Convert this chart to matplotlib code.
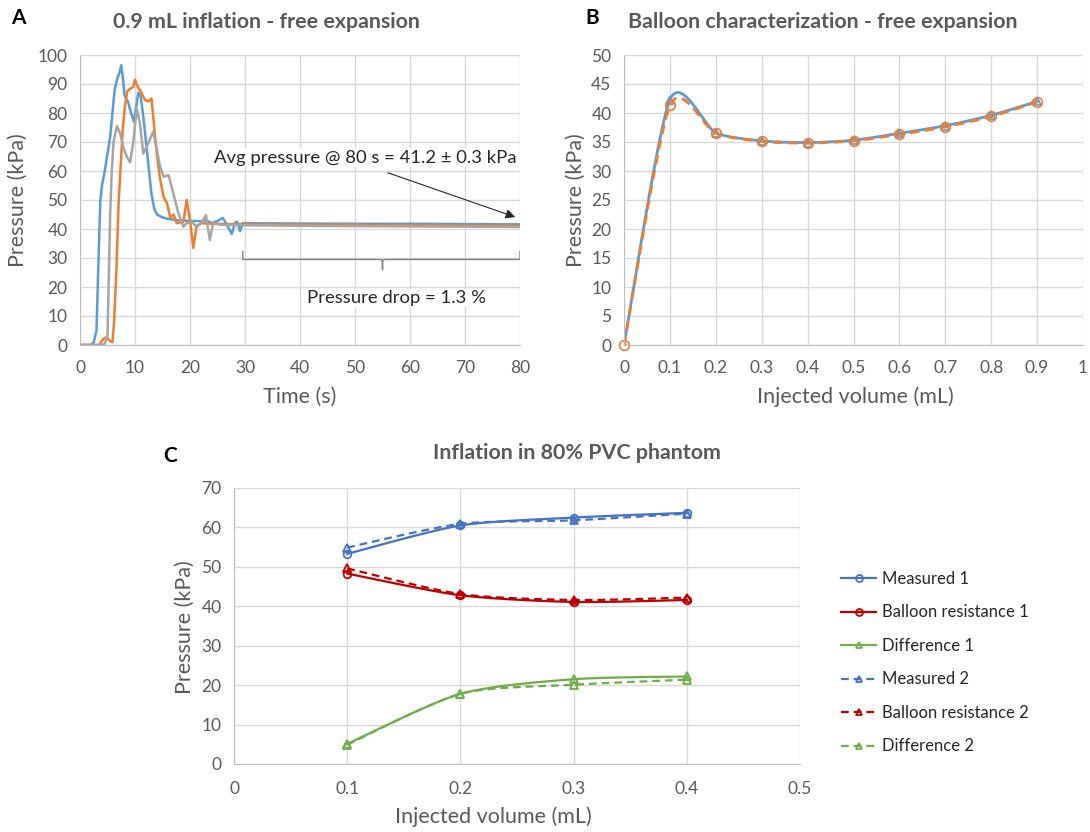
import numpy as np
import matplotlib
matplotlib.use("Agg")
import matplotlib.pyplot as plt
from matplotlib.ticker import MultipleLocator, FuncFormatter

plt.rcParams['font.family'] = ['Lato', 'DejaVu Sans']

''' --------------- data --------------- '''
# panel A - pressure traces (time s, kPa)
t_blue = [0, 2.0, 2.5, 3.0, 3.3, 3.7, 4.0, 4.5, 5.0, 5.5, 5.9, 6.3, 6.8, 7.2, 7.5, 7.8, 8.1, 8.7, 9.3,
          9.8, 10.2, 10.6, 11.0, 11.5, 12.0, 12.5, 13.0, 13.5, 14.0, 15.0, 16, 18, 20, 22, 23, 24, 25,
          26, 26.8, 27.6, 28.2, 28.6, 29.1, 29.6, 30, 40, 50, 60, 70, 80]
p_blue = [0, 0, 1, 5, 25, 50, 55, 60, 66, 72, 80, 88, 92, 94, 96.5, 92, 86, 84, 80,
          77, 82, 87, 86, 79, 70, 61, 52, 47, 45, 44, 43.5, 43, 42.8, 42.7, 43, 42, 42.8,
          43.8, 41, 38.3, 42.2, 42.5, 39.2, 42, 42, 41.9, 41.8, 41.8, 41.7, 41.6]

t_orange = [0, 3.5, 4.0, 4.5, 5.0, 5.5, 5.9, 6.2, 6.6, 7.0, 7.4, 7.8, 8.2, 8.6, 9.2, 9.7, 10.0, 10.5,
            10.9, 11.8, 12.4, 13.0, 13.3, 13.9, 14.5, 15.2, 15.8, 16.4, 17.0, 17.6, 18.8, 19.4, 20.0,
            20.6, 21.2, 22.0, 24, 30, 40, 50, 60, 70, 80]
p_orange = [0, 0, 1.5, 2.5, 2.2, 1.3, 1.0, 8, 25, 48, 62, 75, 83, 87.5, 88.5, 89, 91.5, 89,
            88, 84.5, 84, 85, 79, 67, 58, 51, 49, 44, 45, 42, 42.5, 50, 43,
            33.5, 41, 42, 41.8, 41.6, 41.5, 41.4, 41.3, 41.2, 41.1]

t_gray = [0, 4.0, 4.5, 5.0, 5.2, 5.5, 5.8, 6.1, 6.7, 7.3, 7.9, 8.5, 9.1, 9.7, 10.3, 10.9, 11.5, 12.4,
          13.3, 13.9, 14.5, 15.2, 16.1, 17.0, 17.9, 18.8, 19.4, 20.3, 21.2, 22.1, 22.9, 23.6, 24.2,
          25.5, 30, 40, 50, 60, 70, 80]
p_gray = [0, 0, 0.5, 3, 20, 46, 61, 70, 75.5, 73, 68, 65, 63, 70, 81.6, 76.4, 66, 69.5,
          73.6, 68, 62, 58, 58.6, 52, 45.4, 40.8, 42, 42.5, 40.8, 42, 44.8, 36.2, 42,
          41.5, 41.3, 41.1, 41.0, 40.9, 40.8, 40.7]

# panel B - balloon characterization
vol_b = [0, 0.1, 0.2, 0.3, 0.4, 0.5, 0.6, 0.7, 0.8, 0.9]
p_b_blue = [0, 42.3, 36.6, 35.2, 34.9, 35.3, 36.5, 37.8, 39.6, 42.0]
p_b_orange = [0, 41.3, 36.5, 35.1, 34.8, 35.2, 36.3, 37.6, 39.4, 41.9]

# panel C - 80% PVC phantom
vol_c = [0.1, 0.2, 0.3, 0.4]
measured_1 = [53.3, 60.5, 62.5, 63.7]
balloon_1 = [48.3, 42.8, 41.1, 41.6]
diff_1 = [5.1, 17.8, 21.5, 22.2]
measured_2 = [54.9, 60.9, 61.8, 63.5]
balloon_2 = [49.6, 43.1, 41.6, 42.2]
diff_2 = [4.9, 17.8, 20.1, 21.4]

GRID = '#D9D9D9'
AXC = '#BFBFBF'
TXT = '#595959'


def smooth(x, y, n=24, s=0.75):
    # excel-like smoothed line (catmull-rom through the points)
    p = np.column_stack([x, y]).astype(float)
    p = np.vstack([p[0], p, p[-1]])
    out = []
    for i in range(1, len(p) - 2):
        p0, p1, p2, p3 = p[i - 1], p[i], p[i + 1], p[i + 2]
        m1 = s * (p2 - p0) / 2
        m2 = s * (p3 - p1) / 2
        u = np.linspace(0, 1, n)[:, None]
        h00 = 2 * u**3 - 3 * u**2 + 1
        h10 = u**3 - 2 * u**2 + u
        h01 = -2 * u**3 + 3 * u**2
        h11 = u**3 - u**2
        out.append(h00 * p1 + h10 * m1 + h01 * p2 + h11 * m2)
    c = np.vstack(out)
    return c[:, 0], c[:, 1]


def style(ax, xpad=11, ypad=9):
    ax.grid(True, color=GRID, lw=1)
    ax.set_axisbelow(True)
    for k in ['top', 'right']:
        ax.spines[k].set_visible(False)
    for k in ['left', 'bottom']:
        ax.spines[k].set_color(AXC)
    ax.tick_params(length=0, labelsize=12.5, labelcolor=TXT)
    ax.tick_params(axis='x', pad=xpad)
    ax.tick_params(axis='y', pad=ypad)


fig = plt.figure(figsize=(10.9, 8.32), dpi=100)

''' --------------- panel A --------------- '''
axA = fig.add_axes([80 / 1090, 1 - 345 / 832, 440 / 1090, 290 / 832])
style(axA)
axA.plot(t_blue, p_blue, color='#5B9BD5', lw=1.8)
axA.plot(t_orange, p_orange, color='#ED7D31', lw=1.8)
axA.plot(t_gray, p_gray, color='#A5A5A5', lw=1.8)
axA.set_xlim(0, 80)
axA.set_ylim(0, 100)
axA.xaxis.set_major_locator(MultipleLocator(10))
axA.yaxis.set_major_locator(MultipleLocator(10))
axA.annotate('', xy=(79.6, 43.8), xytext=(55.5, 59.7),
             arrowprops=dict(arrowstyle='-|>', color='#262626', lw=0.8, mutation_scale=14))
axA.text(79.3, 64.5, 'Avg pressure @ 80 s = 41.2 ± 0.3 kPa', ha='right', va='center', fontsize=13.3,
         color='#262626', bbox=dict(fc='white', ec='none', pad=1))
# brace under the plateau
bc = '#7F7F7F'
axA.plot([29.6, 29.6, 54.5, 55, 55, 55, 55.5, 80, 80], [32.2, 29.5, 29.5, 29.2, 26, 29.2, 29.5, 29.5, 32.2],
         color=bc, lw=1)
axA.text(57.6, 16.2, 'Pressure drop = 1.3 %', ha='center', va='center', fontsize=13.3,
         color='#262626', bbox=dict(fc='white', ec='none', pad=1))

''' --------------- panel B --------------- '''
axB = fig.add_axes([624 / 1090, 1 - 345 / 832, 459 / 1090, 290 / 832])
style(axB)
xs, ys = smooth(vol_b, p_b_blue)
axB.plot(xs, ys, color='#5B9BD5', lw=2)
axB.plot(vol_b, p_b_blue, ls='none', marker='^', ms=6, mfc='none', mec='#5B9BD5', mew=1.2)
xs, ys = smooth(vol_b, p_b_orange)
axB.plot(xs, ys, color='#ED7D31', lw=2, dashes=(3.5, 2))
axB.plot(vol_b, p_b_orange, ls='none', marker='o', ms=7, mfc='none', mec='#ED7D31', mew=1.2,
         clip_on=False)
axB.set_xlim(0, 1)
axB.set_ylim(0, 50)
axB.xaxis.set_major_locator(MultipleLocator(0.1))
axB.yaxis.set_major_locator(MultipleLocator(5))
axB.xaxis.set_major_formatter(FuncFormatter(lambda v, _: f'{v:g}'))

''' --------------- panel C --------------- '''
axC = fig.add_axes([234 / 1090, 1 - 764 / 832, 566 / 1090, 276 / 832])
style(axC, xpad=12, ypad=9)
series = [
    (measured_1, '#4472C4', '-', 'o', 'Measured 1'),
    (balloon_1, '#C00000', '-', 'o', 'Balloon resistance 1'),
    (diff_1, '#70AD47', '-', '^', 'Difference 1'),
    (measured_2, '#4472C4', '--', '^', 'Measured 2'),
    (balloon_2, '#C00000', '--', '^', 'Balloon resistance 2'),
    (diff_2, '#70AD47', '--', '^', 'Difference 2'),
]
handles = []
for vals, col, ls, mk, lab in series:
    xs, ys = smooth(vol_c, vals)
    kw = dict(dashes=(3.5, 2.2)) if ls == '--' else {}
    axC.plot(xs, ys, color=col, lw=1.6, **kw)
    axC.plot(vol_c, vals, ls='none', marker=mk, ms=5.5, mfc='none', mec=col, mew=1.3)
    h, = axC.plot([], [], color=col, lw=1.6, marker=mk, ms=5, mfc='none', mec=col, mew=1.3,
                  label=lab, **kw)
    handles.append(h)
axC.set_xlim(0, 0.5)
axC.set_ylim(0, 70)
axC.xaxis.set_major_locator(MultipleLocator(0.1))
axC.yaxis.set_major_locator(MultipleLocator(10))
axC.xaxis.set_major_formatter(FuncFormatter(lambda v, _: f'{v:g}'))
fig.legend(handles=handles, loc='upper left', bbox_to_anchor=(826 / 1090, 1 - 556 / 832),
           frameon=False, fontsize=12, labelspacing=1.05, handlelength=2.1, handletextpad=0.35,
           labelcolor='#262626')

''' --------------- texts --------------- '''
tk = dict(color=TXT, fontsize=15.5)
fig.text(300 / 1090, 1 - 397 / 832, 'Time (s)', ha='center', va='center', **tk)
fig.text(18 / 1090, 1 - 200 / 832, 'Pressure (kPa)', rotation=90, ha='center', va='center', **tk)
fig.text(855 / 1090, 1 - 397 / 832, 'Injected volume (mL)', ha='center', va='center', **tk)
fig.text(576 / 1090, 1 - 200 / 832, 'Pressure (kPa)', rotation=90, ha='center', va='center', **tk)
fig.text(493 / 1090, 1 - 817 / 832, 'Injected volume (mL)', ha='center', va='center', **tk)
fig.text(185 / 1090, 1 - 627 / 832, 'Pressure (kPa)', rotation=90, ha='center', va='center', **tk)

ttl = dict(color=TXT, fontsize=15.4, fontweight='bold', ha='center', va='center')
fig.text(266 / 1090, 1 - 22 / 832, '0.9 mL inflation - free expansion', **ttl)
fig.text(823 / 1090, 1 - 22 / 832, 'Balloon characterization - free expansion', **ttl)
fig.text(577 / 1090, 1 - 453 / 832, 'Inflation in 80% PVC phantom', **ttl)

lt = dict(color='black', fontsize=15, fontweight='bold', ha='center', va='center')
fig.text(18 / 1090, 1 - 18 / 832, 'A', **lt)
fig.text(592 / 1090, 1 - 18 / 832, 'B', **lt)
fig.text(170 / 1090, 1 - 456 / 832, 'C', **lt)

fig.savefig('out.png', dpi=100)
